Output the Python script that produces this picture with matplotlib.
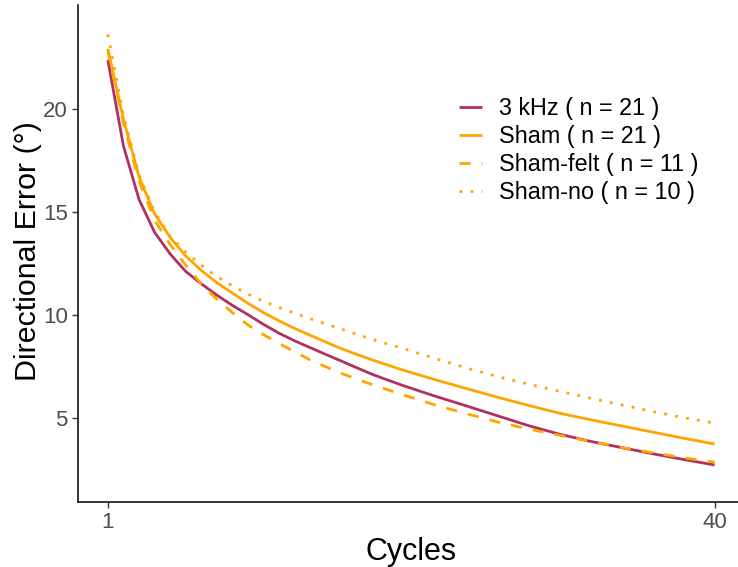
import matplotlib
matplotlib.use("Agg")
import matplotlib.pyplot as plt

plt.rcParams["font.family"] = ["Liberation Sans", "DejaVu Sans"]

# Fitted directional error per cycle for each group
cycles = [1, 2, 3, 4, 5, 6, 7, 8, 9, 10, 11, 12, 13, 14, 15, 16, 17, 18, 19, 20,
          22, 24, 26, 28, 30, 32, 34, 36, 38, 40]

err_3khz = [22.36, 18.2, 15.6, 14.0, 12.95, 12.1, 11.5, 10.95, 10.45, 10.0,
            9.53, 9.1, 8.73, 8.4, 8.07, 7.75, 7.42, 7.1, 6.82, 6.55,
            6.05, 5.58, 5.1, 4.62, 4.2, 3.85, 3.55, 3.25, 2.97, 2.7]

err_sham = [22.9, 19.5, 16.7, 14.9, 13.75, 12.85, 12.15, 11.55, 11.05, 10.55,
            10.1, 9.7, 9.33, 9.0, 8.67, 8.35, 8.07, 7.8, 7.55, 7.3,
            6.85, 6.42, 6.0, 5.6, 5.22, 4.9, 4.6, 4.3, 4.0, 3.72]

err_sham_felt = [22.8, 19.3, 16.5, 14.6, 13.4, 12.4, 11.5, 10.75, 10.1, 9.5,
                 9.03, 8.6, 8.2, 7.8, 7.47, 7.15, 6.87, 6.6, 6.35, 6.1,
                 5.62, 5.2, 4.8, 4.45, 4.15, 3.85, 3.55, 3.3, 3.05, 2.84]

err_sham_no = [23.6, 19.7, 16.8, 15.0, 13.8, 13.05, 12.4, 11.85, 11.4, 11.0,
               10.65, 10.35, 10.07, 9.8, 9.55, 9.3, 9.05, 8.8, 8.57, 8.35,
               7.88, 7.42, 7.0, 6.63, 6.28, 5.95, 5.62, 5.3, 5.0, 4.73]

labels = ["3 kHz ( n = 21 )", "Sham ( n = 21 )", "Sham-felt ( n = 11 )", "Sham-no ( n = 10 )"]
colors = ["#B03060", "#FFA500", "#FFA500", "#FFA500"]
styles = ["-", "-", (0, (4, 4)), (0, (1, 3))]
series = [err_3khz, err_sham, err_sham_felt, err_sham_no]

fig = plt.figure(figsize=(7.38, 5.67), dpi=100)
ax = fig.add_axes([77.5 / 738, 64.7 / 567, (745 - 77.5) / 738, (502.3 - 5) / 567])

for y, lab, col, ls in zip(series, labels, colors, styles):
    ax.plot(cycles, y, color=col, linestyle=ls, linewidth=2.0, label=lab,
            solid_capstyle="butt", dash_capstyle="butt", solid_joinstyle="round")

ax.set_xlim(-0.95, 41.95)
ax.set_ylim(0.89, 25.03)
ax.set_xticks([1, 40])
ax.set_yticks([5, 10, 15, 20])

for side in ["top", "right"]:
    ax.spines[side].set_visible(False)
for side in ["left", "bottom"]:
    ax.spines[side].set_color("black")
    ax.spines[side].set_linewidth(1.1)

ax.tick_params(axis="both", colors="#333333", length=4, width=1.0,
               labelsize=16, labelcolor="#4D4D4D", pad=3)

ax.set_xlabel("Cycles", fontsize=22, color="black", labelpad=3)
ax.set_ylabel("Directional Error (°)", fontsize=21.9, color="black")
ax.yaxis.set_label_coords(-0.074, 0.506)
ax.yaxis.label.set_verticalalignment("center")

leg = fig.legend(loc="upper left", bbox_to_anchor=(459 / 738, 1 - 97 / 567),
                 frameon=False, fontsize=16.8, handlelength=1.0,
                 handletextpad=0.72, labelspacing=0.21, borderpad=0,
                 borderaxespad=0)

fig.savefig("out.png", dpi=100)
